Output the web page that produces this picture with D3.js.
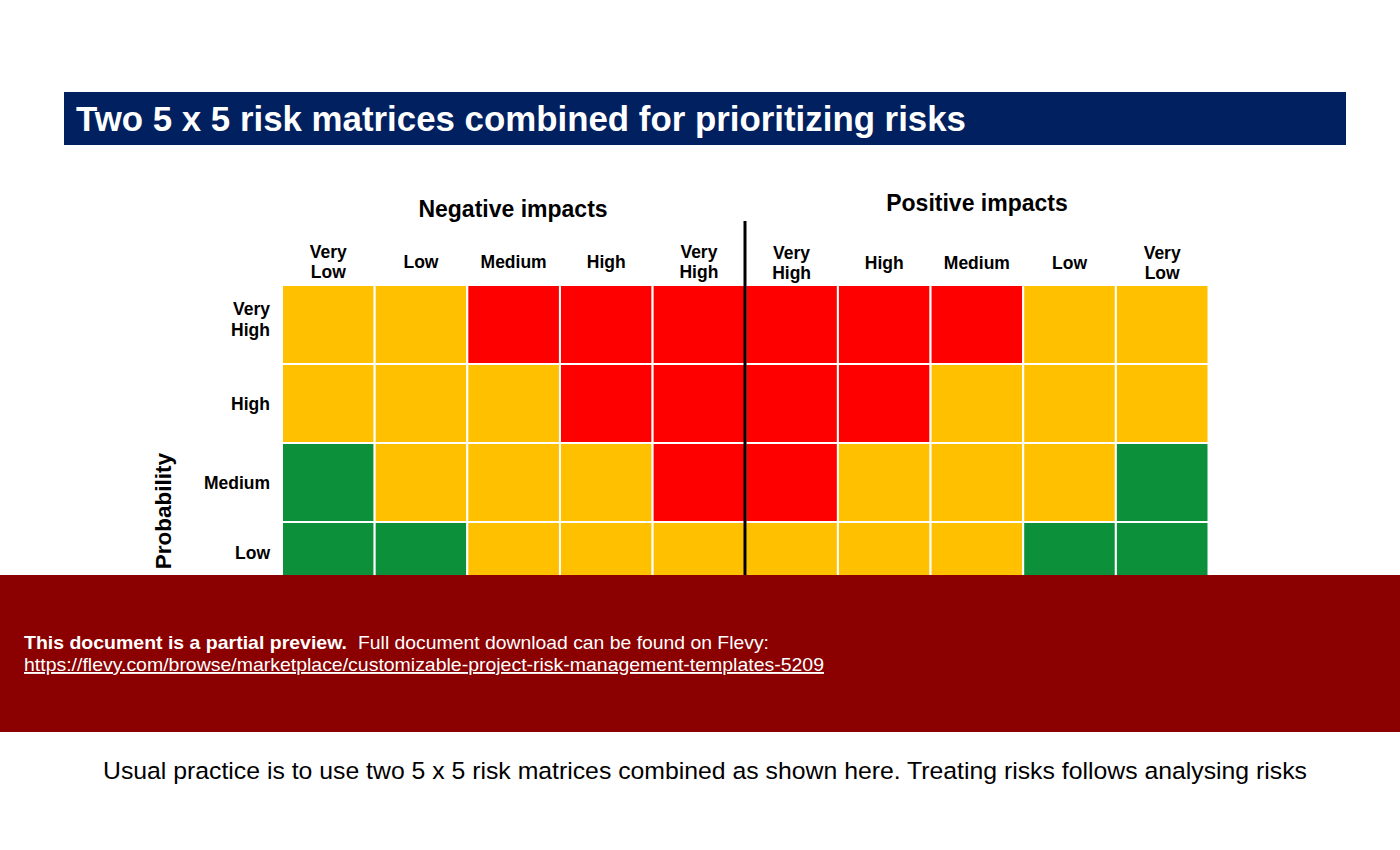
<!DOCTYPE html>
<html><head><meta charset="utf-8">
<script src="https://cdn.jsdelivr.net/npm/d3@7"></script>
<style>
html,body{margin:0;padding:0;background:#fff;}
svg{display:block;font-family:"Liberation Sans",Arial,sans-serif;}
</style></head>
<body>
<svg id="c" width="1400" height="850"></svg>
<script>
const title = "Two 5 x 5 risk matrices combined for prioritizing risks";
const negHeader = "Negative impacts";
const posHeader = "Positive impacts";
const negImpacts = ["Very Low","Low","Medium","High","Very High"];
const posImpacts = ["Very High","High","Medium","Low","Very Low"];
const probabilities = ["Very High","High","Medium","Low","Very Low"];
const ratingsNeg = [
  ["A","A","R","R","R"],
  ["A","A","A","R","R"],
  ["G","A","A","A","R"],
  ["G","G","A","A","A"],
  ["G","G","G","A","A"]
];
const ratingsPos = [
  ["R","R","R","A","A"],
  ["R","R","A","A","A"],
  ["R","A","A","A","G"],
  ["A","A","A","G","G"],
  ["A","A","G","G","G"]
];
const footer = "Usual practice is to use two 5 x 5 risk matrices combined as shown here. Treating risks follows analysing risks";
const bannerBold = "This document is a partial preview.";
const bannerText = "Full document download can be found on Flevy:";
const bannerUrl = "https://flevy.com/browse/marketplace/customizable-project-risk-management-templates-5209";

const colorMap = {A:"#FFC000", R:"#FF0000", G:"#0C9039"};
const svg = d3.select("#c");
const bannerTop = 575;

// Title bar
svg.append("rect").attr("x",64).attr("y",92).attr("width",1282).attr("height",53).attr("fill","#002060");
svg.append("text").attr("x",76).attr("y",131).attr("fill","#fff").attr("font-size",35).attr("font-weight","bold")
  .attr("textLength",890).attr("lengthAdjust","spacingAndGlyphs").text(title);

const cols = negImpacts.map((d,i)=>"N"+i).concat(posImpacts.map((d,i)=>"P"+i));
const x = d3.scaleBand().domain(cols).range([282,1208.5]);
const y = d3.scaleBand().domain(probabilities).range([285,285+5*79]);

const cells = [];
probabilities.forEach((p,ri)=>{
  ratingsNeg[ri].forEach((r,ci)=>cells.push({col:"N"+ci,row:p,r}));
  ratingsPos[ri].forEach((r,ci)=>cells.push({col:"P"+ci,row:p,r}));
});
svg.append("g").selectAll("rect").data(cells).join("rect")
  .attr("x",d=>x(d.col)).attr("y",d=>y(d.row))
  .attr("width",x.bandwidth()).attr("height",y.bandwidth())
  .attr("fill",d=>colorMap[d.r]).attr("stroke","#fff").attr("stroke-width",2);

// divider
svg.append("line").attr("x1",745).attr("x2",745).attr("y1",221).attr("y2",700).attr("stroke","#000").attr("stroke-width",3);

// headers
svg.append("text").attr("x",513).attr("y",217).attr("text-anchor","middle").attr("font-size",23).attr("font-weight","bold").text(negHeader);
svg.append("text").attr("x",977).attr("y",211).attr("text-anchor","middle").attr("font-size",23).attr("font-weight","bold").text(posHeader);

const lblSize = 17.5;
function colLabel(key,label,yTwo,ySingle){
  const cx = x(key)+x.bandwidth()/2;
  const words = label.split(" ");
  const t = svg.append("text").attr("text-anchor","middle").attr("font-size",lblSize).attr("font-weight","bold");
  if(words.length===2){
    t.append("tspan").attr("x",cx).attr("y",yTwo).text(words[0]);
    t.append("tspan").attr("x",cx).attr("y",yTwo+20).text(words[1]);
  } else {
    t.append("tspan").attr("x",cx).attr("y",ySingle).text(label);
  }
}
negImpacts.forEach((d,i)=>colLabel("N"+i,d,258,268));
posImpacts.forEach((d,i)=>colLabel("P"+i,d,259,269));

// row labels (only rows not hidden by the preview banner)
probabilities.filter(p=>y(p) < bannerTop - 40).forEach(p=>{
  const cy = y(p)+y.bandwidth()/2;
  const words = p.split(" ");
  const t = svg.append("text").attr("text-anchor","end").attr("font-size",lblSize).attr("font-weight","bold");
  if(words.length===2){
    t.append("tspan").attr("x",270).attr("y",cy-10).text(words[0]);
    t.append("tspan").attr("x",270).attr("y",cy+11).text(words[1]);
  } else {
    t.append("tspan").attr("x",270).attr("y",p==="Low"?559:cy+6).text(p);
  }
});

svg.append("text").attr("transform","translate(171,511) rotate(-90)").attr("text-anchor","middle")
  .attr("font-size",22.5).attr("font-weight","bold").text("Probability");

// banner
svg.append("rect").attr("x",0).attr("y",bannerTop).attr("width",1400).attr("height",157).attr("fill","#8B0000");
svg.append("text").attr("x",24).attr("y",649).attr("fill","#fff").attr("font-size",19).attr("font-weight","bold")
  .attr("textLength",323).attr("lengthAdjust","spacingAndGlyphs").text(bannerBold);
svg.append("text").attr("x",358).attr("y",649).attr("fill","#fff").attr("font-size",19)
  .attr("textLength",411).attr("lengthAdjust","spacingAndGlyphs").text(bannerText);
svg.append("text").attr("x",24).attr("y",671).attr("fill","#fff").attr("font-size",19)
  .attr("text-decoration","underline")
  .attr("textLength",800).attr("lengthAdjust","spacingAndGlyphs").text(bannerUrl);

// footer
svg.append("text").attr("x",705).attr("y",779).attr("text-anchor","middle").attr("font-size",24.5)
  .attr("textLength",1204).attr("lengthAdjust","spacingAndGlyphs").text(footer);
</script>
</body></html>
